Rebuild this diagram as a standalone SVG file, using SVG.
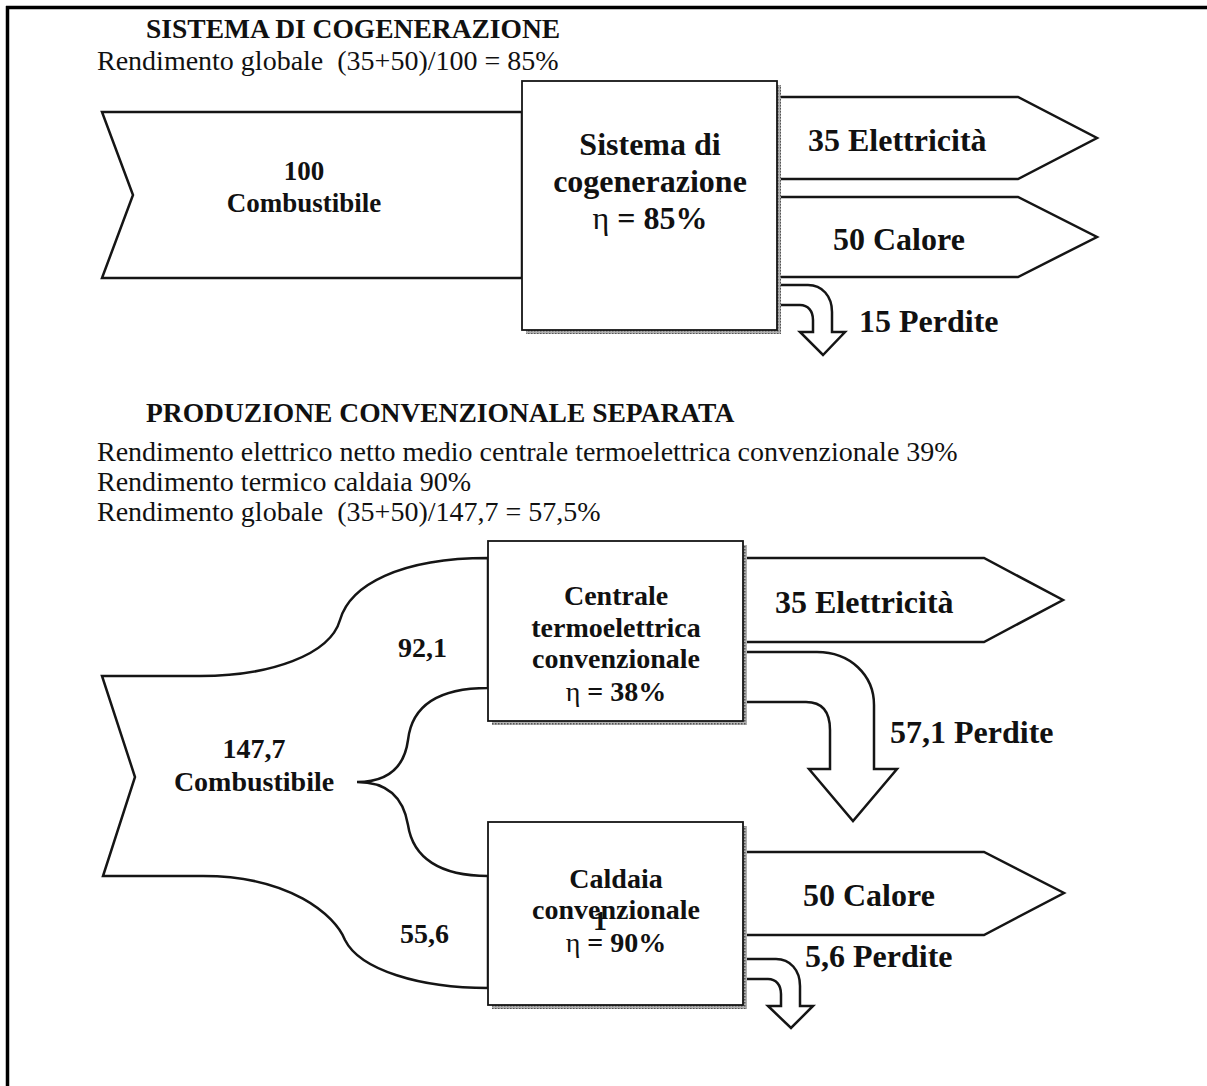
<svg xmlns="http://www.w3.org/2000/svg" width="1207" height="1086" viewBox="0 0 1207 1086">
<defs>
<pattern id="hatch" width="3" height="3" patternUnits="userSpaceOnUse">
<rect width="3" height="3" fill="#b0b0b0"/>
<rect width="1.5" height="1.5" fill="#555"/>
</pattern>
</defs>
<style>
text{font-family:"Liberation Serif","Times New Roman",serif;fill:#111}
.h{font-weight:bold;font-size:27.5px}
.b{font-size:28px}
.big{font-weight:bold;font-size:32px}
.lb{font-weight:bold;font-size:28px}
.lab{font-weight:bold;font-size:27px}
.c{text-anchor:middle}
.eta{font-weight:normal}
.flow{fill:#fff;stroke:#151515;stroke-width:2.5;stroke-linejoin:miter}
.box{fill:#fff;stroke:#151515;stroke-width:1.8}
.shadow{fill:url(#hatch)}
</style>
<rect width="1207" height="1086" fill="#fff"/>
<g id="frame">
<line x1="6" y1="7.5" x2="1207" y2="7.5" stroke="#000" stroke-width="3.5"/>
<line x1="7.5" y1="6" x2="7.5" y2="1086" stroke="#000" stroke-width="3.5"/>
</g>
<g id="heading-top">
<text class="h" x="146" y="38">SISTEMA DI COGENERAZIONE</text>
<text class="b" x="97" y="70" xml:space="preserve">Rendimento globale  (35+50)/100 = 85%</text>
</g>
<g id="heading-bottom">
<text class="h" x="146" y="422">PRODUZIONE CONVENZIONALE SEPARATA</text>
<text class="b" x="97" y="461">Rendimento elettrico netto medio centrale termoelettrica convenzionale 39%</text>
<text class="b" x="97" y="491">Rendimento termico caldaia 90%</text>
<text class="b" x="97" y="521" xml:space="preserve">Rendimento globale  (35+50)/147,7 = 57,5%</text>
</g>
<g id="connectors">
<polygon class="flow" points="102,112 522,112 522,278 102,278 133,195"/>
<polygon class="flow" points="777,97 1018,97 1097,138 1018,179 777,179"/>
<polygon class="flow" points="777,197 1018,197 1097,237 1018,277 777,277"/>
<path class="flow" d="M777,285 H808 C822,285 832,296 832,312 V332 H845 L823,355 L800,332 H813 V320 C813,311 808,305 800,305 H777 Z"/>
<path class="flow" d="M102,676 H200 C270,676 330,655 340,620 C350,585 400,558 488,558 V688 C440,688 412,705 408,740 C404,770 385,782 357,782 C385,782 403,795 408,825 C413,858 440,876 488,876 V988 C420,988 360,970 345,940 C335,915 290,876 203,876 H103 L135,777 Z"/>
<polygon class="flow" points="743,558 984,558 1063,600 984,642 743,642"/>
<path class="flow" d="M743,652 H817 C850,652 874,675 874,705 V769 H897 L853,821 L809,769 H830 V730 C830,712 822,702 806,702 H743 Z"/>
<polygon class="flow" points="743,852 984,852 1064,893 984,935 743,935"/>
<path class="flow" d="M743,959 H776 C790,959 800,970 800,986 V1006 H813 L791,1028 L768,1006 H781 V994 C781,985 776,979 768,979 H743 Z"/>
<g id="flow-labels">
<text class="lab c" x="304" y="180">100</text>
<text class="lab c" x="304" y="212">Combustibile</text>
<text class="big" x="808" y="151">35 Elettricità</text>
<text class="big" x="833" y="250">50 Calore</text>
<text class="big" x="859" y="332">15 Perdite</text>
<text class="lb" x="398" y="657">92,1</text>
<text class="lb c" x="254" y="758">147,7</text>
<text class="lb c" x="254" y="791">Combustibile</text>
<text class="lb" x="400" y="943">55,6</text>
<text class="big" x="775" y="613">35 Elettricità</text>
<text class="big" x="890" y="743">57,1 Perdite</text>
<text class="big" x="803" y="906">50 Calore</text>
<text class="big" x="805" y="967">5,6 Perdite</text>
</g>
</g>
<g id="node-cogenerazione">
<rect class="shadow" x="526" y="85" width="255" height="249"/>
<rect class="box" x="522" y="81" width="255" height="249"/>
<text class="big c" x="650" y="155">Sistema di</text>
<text class="big c" x="650" y="192">cogenerazione</text>
<text class="big c" x="650" y="229"><tspan class="eta">η</tspan> = 85%</text>
</g>
<g id="node-centrale">
<rect class="shadow" x="492" y="545" width="255" height="180"/>
<rect class="box" x="488" y="541" width="255" height="180"/>
<text class="lb c" x="616" y="605">Centrale</text>
<text class="lb c" x="616" y="637">termoelettrica</text>
<text class="lb c" x="616" y="668">convenzionale</text>
<text class="lb c" x="616" y="701"><tspan class="eta">η</tspan> = 38%</text>
</g>
<g id="node-caldaia">
<rect class="shadow" x="492" y="826" width="255" height="183"/>
<rect class="box" x="488" y="822" width="255" height="183"/>
<text class="lb c" x="616" y="888">Caldaia</text>
<text class="lb c" x="616" y="919">convenzionale</text>
<text class="lb" x="593" y="930">1</text>
<text class="lb c" x="616" y="952"><tspan class="eta">η</tspan> = 90%</text>
</g>
</svg>
